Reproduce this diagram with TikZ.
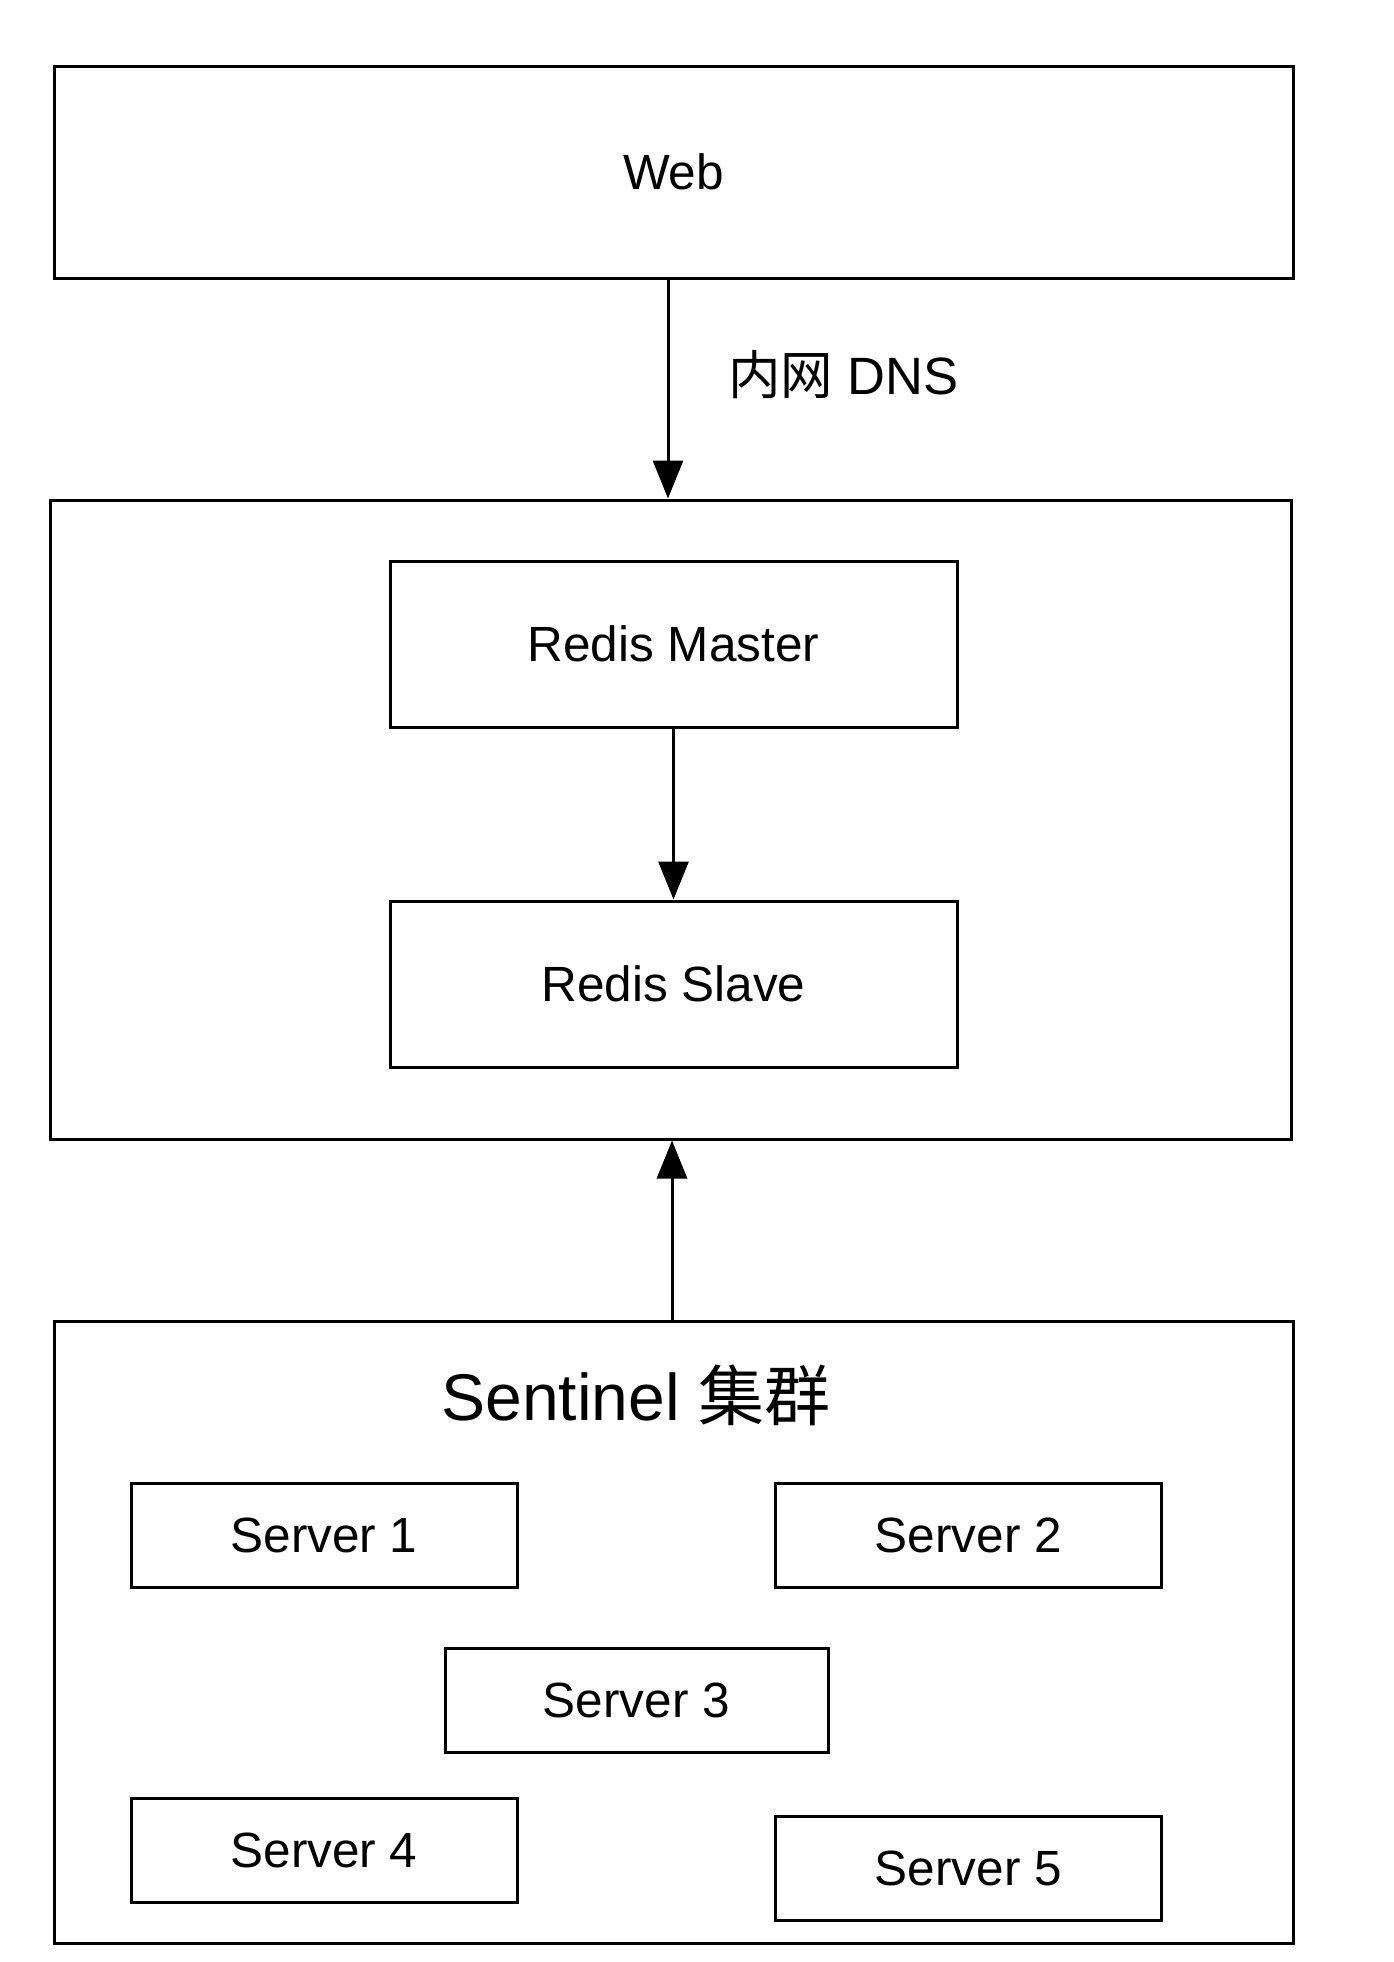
\documentclass[tikz,border=0pt]{standalone}
\usepackage{fontspec}
\setmainfont{Liberation Sans}
\newfontfamily\cjk{Noto Sans CJK SC}
\usetikzlibrary{arrows.meta}
\begin{document}
\begin{tikzpicture}[x=1pt,y=-1pt,
  box/.style={draw=black, line width=3pt, inner sep=0pt, fill=white},
  bigbox/.style={box, minimum width=1239pt},
  redisbox/.style={box, minimum width=567pt, minimum height=166pt, font=\fontsize{49.5}{55}\selectfont},
  srvbox/.style={box, minimum width=386pt, minimum height=104pt, font=\fontsize{49.5}{55}\selectfont},
  arr/.style={line width=3pt, -{Triangle[width=30pt,length=38pt]}}]
\useasboundingbox[fill=white] (0,0) rectangle (1394,1962);
% containers
\node[bigbox, minimum height=212pt, font=\fontsize{49.5}{55}\selectfont] (web) at (673.5,172) {Web};
\node[box, minimum width=1241pt, minimum height=639pt] (redis) at (670.5,819.5) {};
\node[bigbox, minimum height=622pt] (sentinel) at (673.5,1632) {};
% redis nodes
\node[redisbox] (master) at (673.5,644) {Redis Master};
\node[redisbox] (slave) at (673.5,984) {Redis Slave};
% sentinel title
\node[font=\fontsize{66}{72}\selectfont] (stitle) at (636,1395) {Sentinel {\cjk 集群}};
% servers
\node[srvbox] (s1) at (324,1535) {Server 1};
\node[srvbox] (s2) at (968.5,1535) {Server 2};
\node[srvbox, minimum width=383pt] (s3) at (636.5,1700) {Server 3};
\node[srvbox] (s4) at (324,1850) {Server 4};
\node[srvbox] (s5) at (968.5,1868) {Server 5};
% label
\node[anchor=west, inner sep=0pt, font=\fontsize{52.5}{58}\selectfont] (dns) at (728,375) {{\cjk 内网} DNS};
% connectors
\draw[arr] ([xshift=-5.5pt]web.south) -- ([xshift=-5.5pt]web.south |- redis.north);
\draw[arr] (master.south) -- (slave.north);
\draw[arr] ([xshift=-1.5pt]sentinel.north) -- ([xshift=-1.5pt]sentinel.north |- redis.south);
\end{tikzpicture}
\end{document}
